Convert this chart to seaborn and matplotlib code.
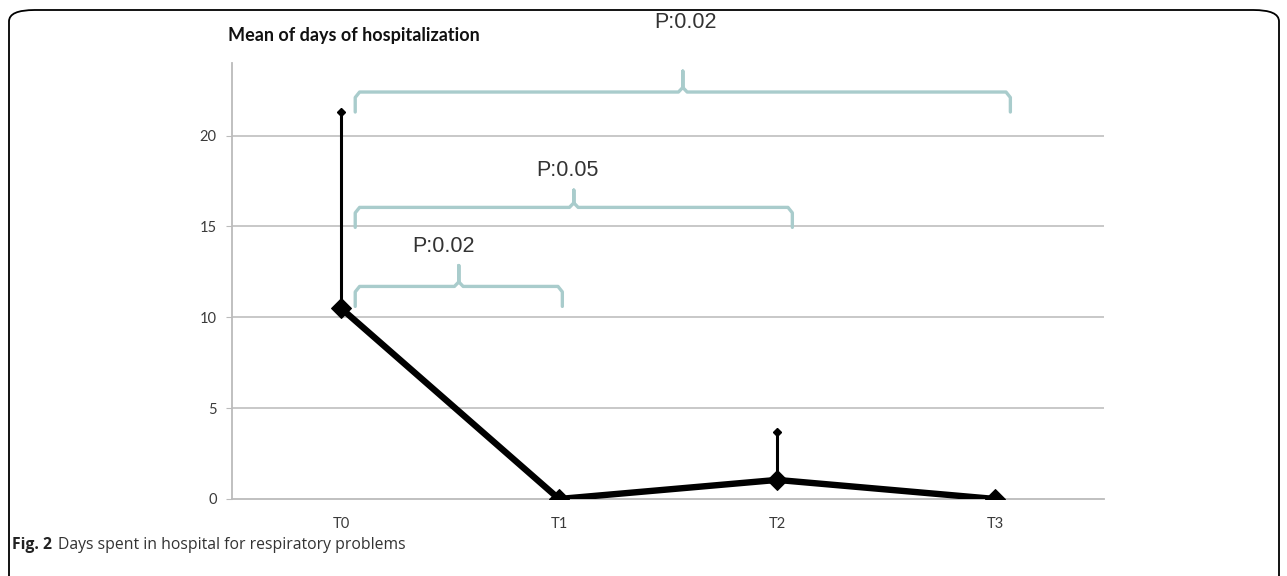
import numpy as np
import pandas as pd
import matplotlib
matplotlib.use('Agg')
import matplotlib.pyplot as plt
import seaborn as sns
from matplotlib.patches import FancyBboxPatch

###
### DATA
###
times = ['T0', 'T1', 'T2', 'T3']
mean_days = [10.5, 0.0, 1.05, 0.0]
sd_days = [10.8, 0.0, 2.65, 0.0]

### comparisons shown with brackets
pairs = [('T0', 'T1'), ('T0', 'T2'), ('T0', 'T3')]
p_values = ['P:0.02', 'P:0.05', 'P:0.02']

df = pd.DataFrame({'time': times, 'mean': mean_days, 'sd': sd_days})

###
### PLOT
###
sns.set_style('white')
plt.rcParams['font.family'] = ['Lato', 'DejaVu Sans']

fig = plt.figure(figsize=(12.87, 5.76), dpi=100)
ax = fig.add_axes([0.1803, 0.1337, 0.6776, 0.7570])

pos = {t: i for i, t in enumerate(times)}
df['x'] = df['time'].map(pos)

### gridlines
for yv in [5, 10, 15, 20]:
    ax.axhline(yv, color='#c4c4c4', lw=1.3, zorder=0)

### error bars (upper only)
has_err = df['sd'] > 0
ax.errorbar(df['x'][has_err], df['mean'][has_err],
            yerr=[np.zeros(has_err.sum()), df['sd'][has_err]],
            fmt='none', ecolor='black', elinewidth=2.2, capsize=0, zorder=3)
ax.plot(df['x'][has_err], (df['mean'] + df['sd'])[has_err], 'D',
        color='black', ms=4, zorder=3)

### mean line
sns.lineplot(data=df, x='x', y='mean', ax=ax, color='black', lw=4.6,
             marker='D', markersize=10, markeredgecolor='black', zorder=4)

### brackets
br_color = '#a9cccc'
br_levels = [(10.6, 11.7, 12.85, 13.9, 0.47),
             (14.95, 16.05, 17.0, 18.1, 1.04),
             (21.3, 22.4, 23.55, 26.2, 1.58)]
for (a, b), ptxt, (tip, hy, peak, ty, tx) in zip(pairs, p_values, br_levels):
    x0 = pos[a] + 0.065
    x1 = pos[b] + 0.03 + (0.04 if b != 'T1' else -0.015)
    xm = (x0 + x1) / 2
    r = 0.02
    xs = [x0, x0, x0 + r, xm - r, xm, xm, xm, xm + r, x1 - r, x1, x1]
    ys = [tip, hy - 0.3, hy, hy, hy + 0.25, peak, hy + 0.25, hy, hy, hy - 0.3, tip]
    ax.plot(xs, ys, color=br_color, lw=2.4, solid_capstyle='round',
            solid_joinstyle='round', clip_on=False, zorder=2)
    ax.text(tx, ty, ptxt, ha='center', va='center', fontsize=15.5,
            color='#333333', family=['Liberation Sans', 'DejaVu Sans'],
            clip_on=False)

### axes styling
ax.set_xlim(-0.5, 3.5)
ax.set_ylim(0, 24)
ax.set_xticks(range(len(times)))
ax.set_xticklabels(times)
ax.set_xticks(np.arange(-0.5, 3.6, 1), minor=True)
ax.set_yticks([0, 5, 10, 15, 20])
ax.tick_params(axis='x', which='major', length=0, pad=13, labelsize=10.5,
               labelcolor='#3a3a3a')
ax.tick_params(axis='x', which='minor', length=4, color='#bbbbbb', direction='out')
ax.tick_params(axis='y', length=4, color='#bbbbbb', labelsize=10.5,
               labelcolor='#3a3a3a', pad=7, left=True)
ax.set_xlabel('')
ax.set_ylabel('')
for s in ['top', 'right']:
    ax.spines[s].set_visible(False)
for s in ['left', 'bottom']:
    ax.spines[s].set_color('#bbbbbb')
    ax.spines[s].set_linewidth(1.3)

### title above the axis
fig.text(228 / 1287, 1 - 35 / 576, 'Mean of days of hospitalization',
         fontsize=13, fontweight='bold', color='#111111', va='center')

### caption
fig.text(12 / 1287, 1 - 545 / 576, 'Fig. 2', fontsize=11.3, fontweight='bold',
         color='#222222', va='center', family=['Open Sans', 'DejaVu Sans'])
fig.text(58 / 1287, 1 - 545 / 576, 'Days spent in hospital for respiratory problems',
         fontsize=11.3, color='#333333', va='center',
         family=['Open Sans', 'DejaVu Sans'])

### rounded frame
frame = FancyBboxPatch((9 / 1287, -0.02), 1270 / 1287, 1 - 10 / 576 + 0.02,
                       boxstyle='round,pad=0,rounding_size=0.02',
                       transform=fig.transFigure, fill=False,
                       edgecolor='black', lw=1.3, mutation_aspect=576 / 1287 * 2.2)
fig.patches.append(frame)

fig.savefig('out.png', dpi=100)
